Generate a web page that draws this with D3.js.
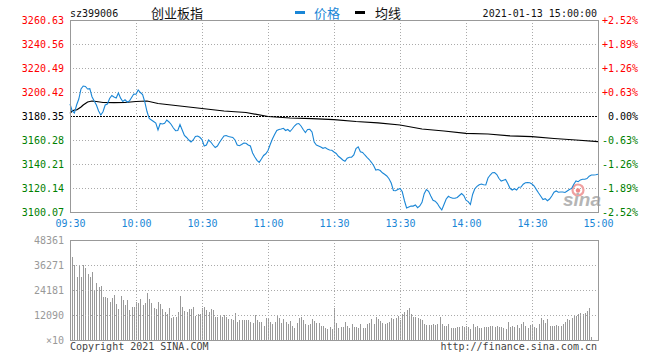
<!DOCTYPE html>
<html><head><meta charset="utf-8">
<script src="https://cdn.jsdelivr.net/npm/d3@7"></script>
<style>
body{margin:0;background:#fff}
svg{display:block}
text{font-family:"DejaVu Sans Mono",monospace;font-size:10px}
</style>
</head><body><svg id="c" width="660" height="360"></svg>
<script>
const timeLabels = ["09:30","10:00","10:30","11:00","11:30","13:30","14:00","14:30","15:00"];
const timeIndex = [0,30,60,90,120,150,180,210,240];
const priceTicks = [3260.63,3240.56,3220.49,3200.42,3180.35,3160.28,3140.21,3120.14,3100.07];
const pctLabels = ["+2.52%","+1.89%","+1.26%","+0.63%","0.00%","-0.63%","-1.26%","-1.89%","-2.52%"];
const volTicks = [48361,36271,24181,12090,0];
const volLabels = ["48361","36271","24181","12090","×10"];
const prevClose = 3180.35;

const prices = [
3190.39,3184.53,3182.86,3189.55,3194.57,3202.93,3205.44,3205.1,3202.93,3203.2,
3196.49,3192.89,3189.55,3184.53,3181.19,3183.95,3189.55,3190.39,3194.98,3197.49,
3196.24,3195.40,3199.58,3195.3,3192.48,3193.90,3192.06,3192.89,3195.82,3198.75,
3198.6,3202.09,3200.00,3198.33,3192.06,3184.11,3178.26,3177.00,3175.75,3174.50,
3168.64,3174.08,3173.66,3174.25,3177.00,3175.33,3173.24,3170.31,3168.06,3168.2,
3173.24,3168.64,3164.04,3162.37,3160.28,3158.61,3160.28,3163.21,3163.62,3162.54,
3160.70,3155.26,3156.10,3160.28,3158.61,3156.10,3154.01,3155.26,3158.36,3161.12,
3163.62,3164.04,3163.21,3162.79,3162.37,3160.28,3156.10,3155.51,3156.52,3157.77,
3157.6,3156.10,3155.26,3149.41,3146.06,3143.30,3141.63,3144.39,3147.32,3148.74,
3151.50,3156.52,3161.12,3164.88,3168.22,3169.06,3169.48,3170.06,3168.22,3169.06,
3167.39,3169.48,3171.99,3173.66,3174.08,3171.99,3169.06,3166.55,3169.06,3169.23,
3166.97,3158.61,3156.10,3155.26,3154.43,3153.34,3154.01,3152.75,3151.92,3151.67,
3150.24,
3148.99,3146.65,3145.23,3143.55,3142.47,3144.98,3145.81,3145.9,3147.74,
3153.17,3154.59,3150.50,3149.83,3147.74,3145.81,3143.97,3141.63,3138.96,3135.19,
3135.61,3134.77,3132.85,3131.60,3130.17,3127.92,3124.32,3118.05,3117.88,3118.89,
3119.72,3117.21,3109.69,3103.41,3104.25,3105.09,3105.0,3105.92,3103.67,3105.09,
3108.18,3115.37,3118.89,3117.38,3113.45,3109.85,3109.10,3107.18,3104.08,3101.74,
3106.34,3110.94,3113.20,3112.11,3111.53,3111.6,3112.20,3113.87,3115.54,3113.87,
3109.94,3108.77,3106.34,3114.71,3119.55,3121.56,3122.90,3123.48,3122.82,3122.65,
3128.50,3131.01,3132.93,3133.10,3131.43,3128.08,3125.99,3126.66,3127.25,3123.90,
3119.89,3118.47,3119.55,3118.47,3120.81,3120.98,3123.32,3124.57,3124.6,3124.5,
3123.48,3121.81,3118.80,3115.96,3113.28,3110.52,3111.19,3109.52,3110.94,3113.45,
3116.63,3117.71,3116.63,3116.8,3116.8,3116.38,3117.63,3118.89,3119.81,3123.23,
3125.99,3125.41,3126.91,3127.4,3127.5,3128.08,3130.01,3131.01,3131.0,3131.26,3131.60
];

const avgIndex = [0,1,2,3,4,5,6,8,10,12,15,20,25,30,35,40,50,60,70,80,90,100,110,120,130,140,150,160,170,180,190,200,210,220,230,240];
const avgPrices = [3182.61,3184.53,3185.37,3185.37,3186.62,3187.88,3189.55,3192.06,3192.89,3192.48,3191.64,3191.47,3191.64,3192.48,3192.89,3190.80,3188.71,3186.62,3184.53,3183.28,3179.93,3178.68,3178.09,3177.26,3175.75,3174.66,3172.82,3169.48,3167.81,3165.88,3165.30,3163.79,3163.04,3161.53,3160.28,3158.86];

const volumes = [
48361,40284,36270,30612,36100,30500,36400,34964,31918,30700,
33030,23696,27710,25776,26259,20940,20900,20166,18522,20456,
21762,17410,14992,21278,19344,16926,19400,14508,16104,16100,
18500,17748,19828,16900,17893,22584,19800,17700,15620,14992,
18232,17600,15000,13396,12429,15330,10784,11268,11300,13400,
21423,16100,14024,13350,14992,14950,16104,11751,12429,12400,
15620,16104,14508,13686,14992,14500,11268,11250,12090,11268,
12090,11268,10156,10100,9672,12912,8850,9672,9700,9650,
9672,9672,8850,8076,12090,9672,8850,8850,6915,10784,
10784,8705,7738,8850,11751,10494,8076,10156,8850,7738,
9188,6915,5658,8076,10784,11268,9672,7738,7254,7738,
10156,9188,8076,8076,6915,6915,5658,5320,6432,5320,
15330,8076,5948,6432,6432,8560,6915,5948,7593,6432,
6432,5948,7593,5658,5948,7593,8076,10156,7593,11268,
10156,9188,8076,7593,8076,8850,10494,10156,10494,11751,
9672,12429,13396,14508,15330,12429,11268,11268,10784,10156,
9672,7593,7254,7254,7254,7593,7254,7593,11268,7593,
6770,6770,7593,5658,5658,5658,6432,6432,6915,6432,
6770,6432,5320,7593,6432,6915,5948,5948,6287,6432,
6432,6915,6915,6432,6915,6432,6432,5948,5320,8560,
6432,6915,6432,7254,5948,7593,8850,6915,5948,7254,
7593,6432,5948,7593,10784,9672,8076,10156,6915,6915,
6915,7254,6915,6915,7593,8560,10156,9672,10784,12090,
11751,12429,12912,12429,13057,14024,15330,1596,0,0,0
];

const svg = d3.select("#c");
const L = 70, R = 598, PT = 20, PB = 212, VT = 240, VB = 340;
const x = d3.scaleLinear().domain([0,240]).range([L,R]);
const y = d3.scaleLinear().domain([3100.07,3260.63]).range([PB,PT]);
const yv = d3.scaleLinear().domain([0,48361]).range([VB,VT]);
const BLUE = "#1a86d6", GRID = "#aaa", BORDER = "#999";
const colorOf = v => v > prevClose + 1e-6 ? "#f00" : (v < prevClose - 1e-6 ? "#008000" : "#000");

// ---- header
svg.append("text").attr("x",70).attr("y",17).attr("fill","#111").text("sz399006");
svg.append("text").attr("x",151).attr("y",17.5).attr("fill","#111")
  .style("font-family","'Noto Sans CJK SC',sans-serif").style("font-size","13px").text("创业板指");
svg.append("rect").attr("x",295).attr("y",11).attr("width",10).attr("height",3).attr("fill",BLUE);
svg.append("text").attr("x",314).attr("y",17.5).attr("fill",BLUE)
  .style("font-family","'Noto Sans CJK SC',sans-serif").style("font-size","13px").text("价格");
svg.append("rect").attr("x",355).attr("y",11).attr("width",10).attr("height",3).attr("fill","#000");
svg.append("text").attr("x",375).attr("y",17.5).attr("fill","#111")
  .style("font-family","'Noto Sans CJK SC',sans-serif").style("font-size","13px").text("均线");
svg.append("text").attr("x",597).attr("y",17).attr("text-anchor","end").attr("fill","#111").text("2021-01-13 15:00:00");

// ---- price grid
const g = svg.append("g").attr("shape-rendering","crispEdges");
g.selectAll("line.h").data(priceTicks.slice(1,-1)).join("line")
  .attr("x1",L).attr("x2",R).attr("y1",d=>Math.round(y(d))+0.5).attr("y2",d=>Math.round(y(d))+0.5)
  .attr("stroke",d=>d===prevClose?"#000":GRID)
  .attr("stroke-dasharray",d=>d===prevClose?"2,1":"1,2");
g.selectAll("line.v").data(timeIndex.slice(1,-1)).join("line")
  .attr("y1",PT).attr("y2",PB).attr("x1",d=>Math.round(x(d))+0.5).attr("x2",d=>Math.round(x(d))+0.5)
  .attr("stroke",GRID).attr("stroke-dasharray","1,2");

// ---- volume bars
const vg = svg.append("g").attr("shape-rendering","crispEdges");
vg.selectAll("rect").data(volumes).join("rect")
  .attr("x",(d,i)=>Math.round(x(i))).attr("width",1)
  .attr("y",d=>yv(d)).attr("height",d=>VB-yv(d)).attr("fill","#999");
vg.selectAll("line.h").data(volTicks.slice(1,-1)).join("line")
  .attr("x1",L).attr("x2",R).attr("y1",d=>Math.round(yv(d))+0.5).attr("y2",d=>Math.round(yv(d))+0.5)
  .attr("stroke",GRID).attr("stroke-dasharray","1,2");
vg.selectAll("line.v").data(timeIndex.slice(1,-1)).join("line")
  .attr("y1",VT).attr("y2",VB).attr("x1",d=>Math.round(x(d))+0.5).attr("x2",d=>Math.round(x(d))+0.5)
  .attr("stroke",GRID).attr("stroke-dasharray","1,2");

// ---- watermark
const wm = svg.append("g");
wm.append("circle").attr("cx",578).attr("cy",190).attr("r",5.5).attr("fill","none").attr("stroke","#f0a0a0").attr("stroke-width",2.2);
wm.append("circle").attr("cx",578).attr("cy",190.5).attr("r",2.2).attr("fill","#e88");
wm.append("text").attr("x",563).attr("y",206).attr("fill","#b5b5b5")
  .style("font-family","Arial, 'Liberation Sans', sans-serif").style("font-size","19px")
  .style("font-weight","bold").style("font-style","italic").text("sina");

// ---- lines
svg.append("path").datum(avgPrices)
  .attr("fill","none").attr("stroke","#000").attr("stroke-width",1.2)
  .attr("d",d3.line().x((d,i)=>x(avgIndex[i])).y(d=>y(d)));
svg.append("path").datum(prices)
  .attr("fill","none").attr("stroke",BLUE).attr("stroke-width",1.1)
  .attr("d",d3.line().x((d,i)=>x(i)).y(d=>y(d)));

// ---- borders
svg.append("rect").attr("x",L+0.5).attr("y",PT+0.5).attr("width",R-L).attr("height",PB-PT)
  .attr("fill","none").attr("stroke",BORDER).attr("shape-rendering","crispEdges");
svg.append("rect").attr("x",L+0.5).attr("y",VT+0.5).attr("width",R-L).attr("height",VB-VT)
  .attr("fill","none").attr("stroke",BORDER).attr("shape-rendering","crispEdges");

// ---- axes
const ax1 = svg.append("g").attr("transform",`translate(${L},0)`)
  .call(d3.axisLeft(y).tickValues(priceTicks).tickSize(0).tickPadding(6).tickFormat(d3.format(".2f")));
ax1.select(".domain").remove();
ax1.selectAll("text").attr("fill",d=>colorOf(d)).style("font-family","'DejaVu Sans Mono',monospace").style("font-size","10px");

const ax2 = svg.append("g").attr("transform",`translate(${R},0)`)
  .call(d3.axisRight(y).tickValues(priceTicks).tickSize(0).tickFormat((d,i)=>pctLabels[i]));
ax2.select(".domain").remove();
ax2.selectAll("text").attr("x",40).attr("text-anchor","end").attr("fill",d=>colorOf(d))
  .style("font-family","'DejaVu Sans Mono',monospace").style("font-size","10px");

const ax3 = svg.append("g").attr("transform",`translate(0,${PB})`)
  .call(d3.axisBottom(x).tickValues(timeIndex).tickSize(0).tickPadding(8).tickFormat((d,i)=>timeLabels[i]));
ax3.select(".domain").remove();
ax3.selectAll("text").attr("fill",BLUE).style("font-family","'DejaVu Sans Mono',monospace").style("font-size","10px");

const ax4 = svg.append("g").attr("transform",`translate(${L},0)`)
  .call(d3.axisLeft(yv).tickValues(volTicks).tickSize(0).tickPadding(6).tickFormat((d,i)=>volLabels[i]));
ax4.select(".domain").remove();
ax4.selectAll("text").attr("fill","#999").style("font-family","'DejaVu Sans Mono',monospace").style("font-size","10px");

// ---- footer
svg.append("text").attr("x",70).attr("y",350).attr("fill","#444").text("Copyright 2021 SINA.COM");
svg.append("text").attr("x",597).attr("y",350).attr("text-anchor","end").attr("fill","#444").text("http://finance.sina.com.cn");
</script>
</body></html>
